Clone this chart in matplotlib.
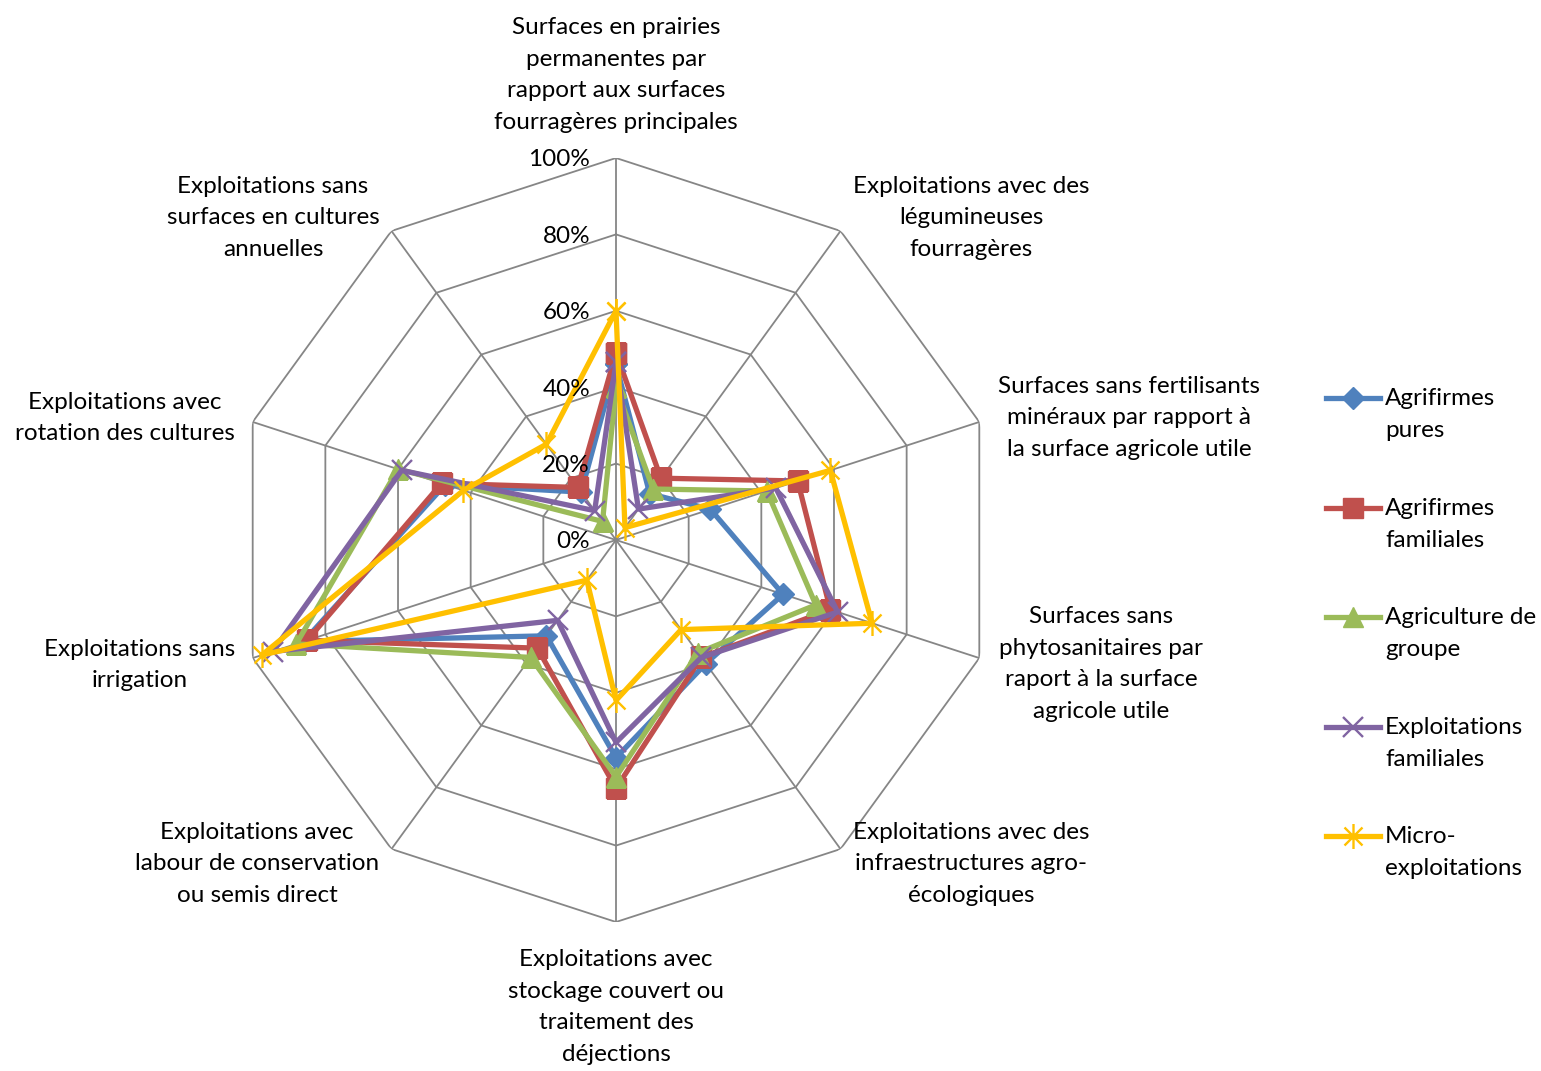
import numpy as np
import matplotlib
matplotlib.use("Agg")
import matplotlib.pyplot as plt
from matplotlib.path import Path
from matplotlib.lines import Line2D
import matplotlib.transforms as mtransforms

plt.rcParams['font.family'] = ['Lato', 'DejaVu Sans']

# Axes (clockwise from top)
categories = [
    "Surfaces en prairies\npermanentes par\nrapport aux surfaces\nfourragères principales",
    "Exploitations avec des\nlégumineuses\nfourragères",
    "Surfaces sans fertilisants\nminéraux par rapport à\nla surface agricole utile",
    "Surfaces sans\nphytosanitaires par\nraport à la surface\nagricole utile",
    "Exploitations avec des\ninfraestructures agro-\nécologiques",
    "Exploitations avec\nstockage couvert ou\ntraitement des\ndéjections",
    "Exploitations avec\nlabour de conservation\nou semis direct",
    "Exploitations sans\nirrigation",
    "Exploitations avec\nrotation des cultures",
    "Exploitations sans\nsurfaces en cultures\nannuelles",
]

agrifirmes_pures = [0.46, 0.15, 0.26, 0.46, 0.40, 0.57, 0.31, 0.86, 0.47, 0.155]
agrifirmes_familiales = [0.49, 0.20, 0.50, 0.59, 0.38, 0.65, 0.35, 0.85, 0.48, 0.17]
agriculture_groupe = [0.40, 0.165, 0.415, 0.55, 0.365, 0.62, 0.38, 0.88, 0.60, 0.06]
exploitations_familiales = [0.465, 0.10, 0.44, 0.61, 0.38, 0.53, 0.26, 0.945, 0.59, 0.095]
micro_exploitations = [0.60, 0.04, 0.59, 0.705, 0.29, 0.42, 0.13, 0.975, 0.42, 0.31]

series_names = ["Agrifirmes\npures", "Agrifirmes\nfamiliales", "Agriculture de\ngroupe",
                "Exploitations\nfamiliales", "Micro-\nexploitations"]
rticks = [0, 0.2, 0.4, 0.6, 0.8, 1.0]
rtick_labels = ["0%", "20%", "40%", "60%", "80%", "100%"]

# asterisk marker like Excel's (x + vertical bar)
star = Path([(0, -1), (0, 1), (-0.72, -0.72), (0.72, 0.72), (-0.72, 0.72), (0.72, -0.72)],
            [Path.MOVETO, Path.LINETO, Path.MOVETO, Path.LINETO, Path.MOVETO, Path.LINETO])

styles = [
    dict(color="#4F81BD", marker="D", ms=11, mew=1),
    dict(color="#C0504D", marker="s", ms=14, mew=1),
    dict(color="#9BBB59", marker="^", ms=14, mew=1),
    dict(color="#8064A2", marker="x", ms=14, mew=1.7),
    dict(color="#FFC000", marker=star, ms=18, mew=1.7),
]
data = [agrifirmes_pures, agrifirmes_familiales, agriculture_groupe,
        exploitations_familiales, micro_exploitations]

FS = 17.5
LS = 1.64

W, H = 1541, 1071
fig = plt.figure(figsize=(W / 100, H / 100), dpi=100)
cx, cy, R = 616, 540, 382
ax = fig.add_axes([(cx - R) / W, (H - cy - R) / H, 2 * R / W, 2 * R / H], projection="polar")
ax.set_theta_zero_location("N")
ax.set_theta_direction(-1)
ax.set_ylim(0, 1)
ax.grid(False)
ax.set_xticks([])
ax.set_yticks([])
ax.spines["polar"].set_visible(False)
ax.patch.set_visible(False)

n = len(categories)
theta = np.linspace(0, 2 * np.pi, n, endpoint=False)
theta_c = np.append(theta, theta[0])

grid_col = "#868686"
for r in rticks[1:]:
    ax.plot(theta_c, [r] * (n + 1), color=grid_col, lw=1.3, zorder=1)
for t in theta:
    ax.plot([t, t], [0, 1], color=grid_col, lw=1.3, zorder=1)

for vals, st in zip(data, styles):
    v = list(vals) + [vals[0]]
    ax.plot(theta_c, v, color=st["color"], lw=3.8, marker=st["marker"], ms=st["ms"],
            mfc=st["color"], mec=st["color"], mew=st["mew"], zorder=3)

off = mtransforms.offset_copy(ax.transData, fig=fig, x=-26, y=-2, units="dots")
for r, lab in zip(rticks, rtick_labels):
    ax.text(0, r, lab, transform=off, ha="right", va="center", fontsize=FS)

# category labels, pixel centres
label_pos = [(616, 75), (971, 218), (1129, 418), (1101, 664), (971, 864),
             (616, 1007), (257, 864), (140, 665), (125, 418), (273, 218)]
for lab, (x, y) in zip(categories, label_pos):
    fig.text(x / W, 1 - y / H, lab, ha="center", va="center", fontsize=FS, linespacing=LS)

# legend
leg_y = [398, 508, 617, 727, 836]
for name, st, y in zip(series_names, styles, leg_y):
    fig.add_artist(Line2D([1326 / W, 1353 / W, 1380 / W], [1 - y / H] * 3, color=st["color"],
                          lw=3.8, marker=st["marker"], markevery=[1], ms=st["ms"],
                          mfc=st["color"], mec=st["color"], mew=st["mew"]))
    fig.text(1385 / W, 1 - (y + 16.5) / H, name, ha="left", va="center", fontsize=FS,
             linespacing=LS)

fig.savefig("out.png", dpi=100)
